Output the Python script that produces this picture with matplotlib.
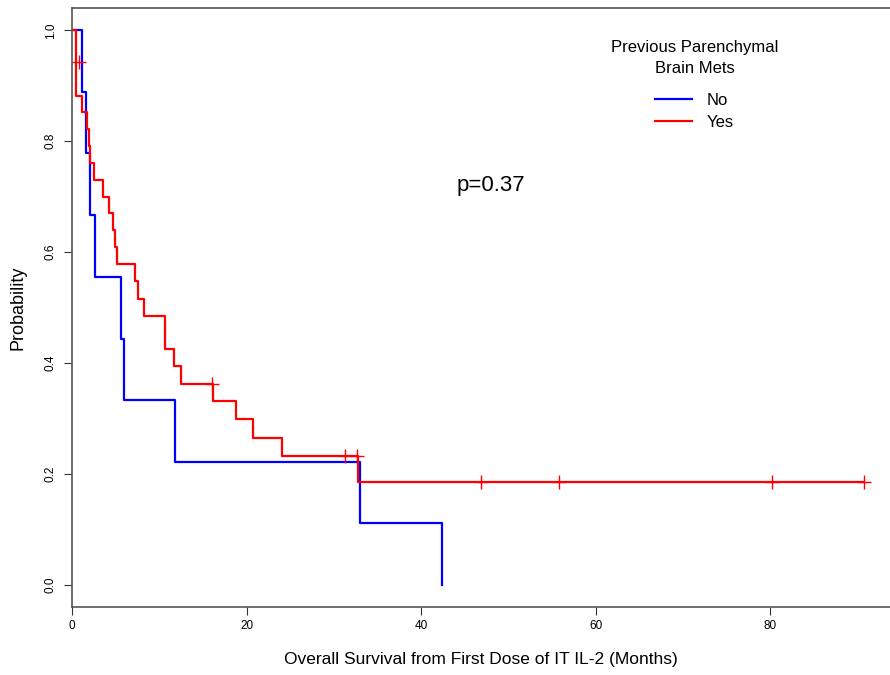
#!/usr/bin/env python3
"""
Curvas de Kaplan-Meier - Sobrevida global desde la primera dosis de IT IL-2
según metástasis cerebrales parenquimatosas previas.
"""

import matplotlib.pyplot as plt

plt.rcParams['font.family'] = ['Liberation Sans', 'DejaVu Sans']

# Grupo "No": tiempos (meses) y probabilidad de sobrevida
tiempos_no = [0.0, 1.2, 1.6, 2.1, 2.6, 5.6, 5.95, 11.8, 33.0, 42.4]
sobrev_no = [1.0, 0.889, 0.778, 0.667, 0.556, 0.444, 0.333, 0.222, 0.111, 0.0]

# Grupo "Yes"
tiempos_si = [0.0, 0.42, 0.45, 1.2, 1.7, 1.9, 2.1, 2.5, 3.6, 4.2, 4.7, 4.9,
              5.1, 7.2, 7.6, 8.2, 10.6, 10.7, 11.7, 12.5, 16.15, 18.8, 20.7,
              24.0, 32.8, 90.7]
sobrev_si = [1.0, 0.943, 0.882, 0.852, 0.822, 0.792, 0.760, 0.730, 0.700,
             0.670, 0.640, 0.609, 0.578, 0.547, 0.516, 0.485, 0.455, 0.426,
             0.395, 0.363, 0.332, 0.299, 0.265, 0.232, 0.185, 0.185]

# Censuras del grupo "Yes"
censura_t = [0.75, 16.0, 31.3, 32.6, 46.9, 55.8, 80.2, 90.7]
censura_s = [0.943, 0.363, 0.232, 0.232, 0.185, 0.185, 0.185, 0.185]

grupos = ['No', 'Yes']
colores = ['#0000FF', '#FF0000']
titulo_leyenda = 'Previous Parenchymal\nBrain Mets'
texto_p = 'p=0.37'


def graficar():
    fig = plt.figure(figsize=(8.9, 6.75), dpi=100)
    ax = fig.add_axes([0.0809, 0.1007, 0.9191, 0.8873])

    ax.step(tiempos_no, sobrev_no, where='post', color=colores[0],
            linewidth=1.6, label=grupos[0])
    ax.step(tiempos_si, sobrev_si, where='post', color=colores[1],
            linewidth=1.6, label=grupos[1])
    ax.plot(censura_t, censura_s, linestyle='none', marker='+',
            color=colores[1], markersize=10, markeredgewidth=1.0)

    ax.set_xlim(0, 93.7)
    ax.set_ylim(-0.04, 1.04)
    ax.set_xticks([0, 20, 40, 60, 80])
    ax.set_yticks([0.0, 0.2, 0.4, 0.6, 0.8, 1.0])
    ax.set_yticklabels(['0.0', '0.2', '0.4', '0.6', '0.8', '1.0'],
                       rotation=90, va='center')
    ax.tick_params(axis='both', direction='out', length=6, width=0.8,
                   labelsize=8.5, color='#333333')
    ax.tick_params(axis='y', pad=5)
    ax.tick_params(axis='x', pad=3)

    for lado in ['left', 'top', 'bottom']:
        ax.spines[lado].set_color('#555555')
        ax.spines[lado].set_linewidth(1.2)
    ax.spines['right'].set_visible(False)

    ax.set_xlabel('Overall Survival from First Dose of IT IL-2 (Months)',
                  fontsize=12.5, labelpad=15)
    ax.set_ylabel('Probability', fontsize=13, labelpad=13)

    ax.text(48, 0.72, texto_p, ha='center', va='center', fontsize=16)

    # Leyenda con título centrado
    leg = ax.legend(title=titulo_leyenda, frameon=False, fontsize=12,
                    title_fontsize=12, loc='upper center',
                    bbox_to_anchor=(0.761, 0.972), handlelength=2.2,
                    handletextpad=0.9, labelspacing=0.45)
    leg.get_title().set_multialignment('center')
    leg.get_title().set_linespacing(1.5)
    leg._legend_box.align = 'center'
    leg._legend_box.sep = 12

    fig.savefig('out.png', dpi=100)


if __name__ == '__main__':
    graficar()
